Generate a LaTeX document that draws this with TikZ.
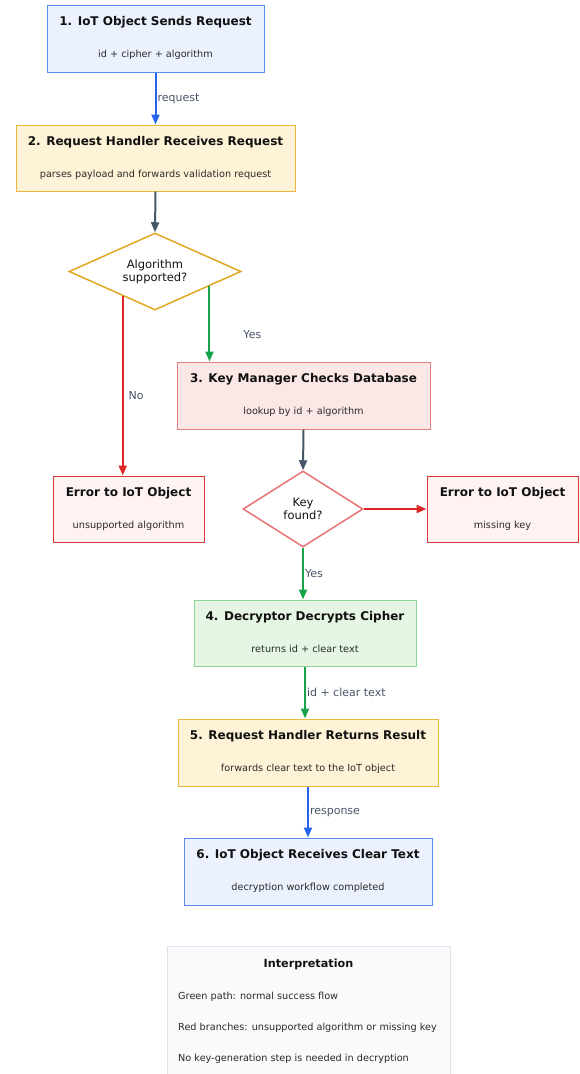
\documentclass[tikz,border=0pt]{standalone}
\usepackage{fontspec}
\setmainfont{DejaVu Sans}
\usetikzlibrary{arrows.meta,shapes.geometric,calc}

\definecolor{bluefill}{HTML}{EBF2FE}
\definecolor{blueline}{HTML}{5B8DEF}
\definecolor{bluearrow}{HTML}{2563EB}
\definecolor{yelfill}{HTML}{FEF3D6}
\definecolor{yelline}{HTML}{E8B840}
\definecolor{diaorange}{HTML}{E0A820}
\definecolor{pinkfill}{HTML}{FCE7E7}
\definecolor{pinkline}{HTML}{E88080}
\definecolor{errfill}{HTML}{FEF2F2}
\definecolor{errline}{HTML}{DC3838}
\definecolor{diared}{HTML}{E87272}
\definecolor{greenfill}{HTML}{E5F6E4}
\definecolor{greenline}{HTML}{8ED493}
\definecolor{greenarrow}{HTML}{16A34A}
\definecolor{redarrow}{HTML}{DC2626}
\definecolor{slate}{HTML}{475569}
\definecolor{notefill}{HTML}{F8FAFC}
\definecolor{noteline}{HTML}{DCE3EC}
\definecolor{ink}{HTML}{111111}
\definecolor{subink}{HTML}{2A2A2A}

\tikzset{
  box/.style={draw, line width=1pt, inner sep=0pt, rectangle},
  bluebox/.style={box, fill=bluefill, draw=blueline},
  yelbox/.style={box, fill=yelfill, draw=yelline},
  pinkbox/.style={box, fill=pinkfill, draw=pinkline},
  errbox/.style={box, fill=errfill, draw=errline},
  greenbox/.style={box, fill=greenfill, draw=greenline},
  decision/.style={diamond, draw, fill=white, line width=1.5pt, inner sep=0pt,
    align=center, text=ink, font=\fontsize{11.5}{13}\selectfont},
  title/.style={inner sep=0pt, anchor=base, text=ink, font=\fontsize{12}{14}\selectfont\bfseries},
  subtitle/.style={inner sep=0pt, anchor=base, text=subink, font=\fontsize{9.7}{12}\selectfont},
  lbl/.style={inner sep=1pt, anchor=west, text=slate, font=\fontsize{11}{13}\selectfont},
  flow/.style={line width=2pt, -{Triangle[length=10pt,width=8pt]}},
  noteline/.style={inner sep=0pt, anchor=base west, text=subink, font=\fontsize{9.7}{12}\selectfont},
}

\begin{document}
\begin{tikzpicture}[x=1pt,y=-1pt]
\useasboundingbox (0,0) rectangle (579,1074);
\clip (0,0) rectangle (579,1074);
\fill[white] (0,0) rectangle (579,1074);

% process boxes: title baseline 21pt and detail baseline 52.5pt below the top edge
\node[bluebox, minimum width=217pt, minimum height=67pt] (b1) at (155.5,38.5) {};
\node[title] (b1t) at ($(b1.north)+(0,21)$) {1. IoT Object Sends Request};
\node[subtitle] (b1s) at ($(b1.north)+(0,52.5)$) {id + cipher + algorithm};

\node[yelbox, minimum width=279pt, minimum height=66pt] (b2) at (155.5,158) {};
\node[title] (b2t) at ($(b2.north)+(0,21)$) {2. Request Handler Receives Request};
\node[subtitle] (b2s) at ($(b2.north)+(0,52.5)$) {parses payload and forwards validation request};

\node[decision, draw=diaorange, aspect=2.23, minimum width=172pt, minimum height=77pt] (d1) at (155,271.5)
  {Algorithm\\supported?};

\node[pinkbox, minimum width=253pt, minimum height=67pt] (b3) at (303.5,395.5) {};
\node[title] (b3t) at ($(b3.north)+(0,21)$) {3. Key Manager Checks Database};
\node[subtitle] (b3s) at ($(b3.north)+(0,52.5)$) {lookup by id + algorithm};

\node[errbox, minimum width=151pt, minimum height=66pt] (e1) at (128.5,509) {};
\node[title] (e1t) at ($(e1.north)+(0,21)$) {Error to IoT Object};
\node[subtitle] (e1s) at ($(e1.north)+(0,52.5)$) {unsupported algorithm};

\node[decision, draw=diared, aspect=1.58, minimum width=120pt, minimum height=76pt] (d2) at (303,509)
  {Key\\found?};

\node[errbox, minimum width=151pt, minimum height=66pt] (e2) at (502.5,509) {};
\node[title] (e2t) at ($(e2.north)+(0,21)$) {Error to IoT Object};
\node[subtitle] (e2s) at ($(e2.north)+(0,52.5)$) {missing key};

\node[greenbox, minimum width=222pt, minimum height=66pt] (b4) at (305,633) {};
\node[title] (b4t) at ($(b4.north)+(0,21)$) {4. Decryptor Decrypts Cipher};
\node[subtitle] (b4s) at ($(b4.north)+(0,52.5)$) {returns id + clear text};

\node[yelbox, minimum width=260pt, minimum height=67pt] (b5) at (308,752.5) {};
\node[title] (b5t) at ($(b5.north)+(0,21)$) {5. Request Handler Returns Result};
\node[subtitle] (b5s) at ($(b5.north)+(0,52.5)$) {forwards clear text to the IoT object};

\node[bluebox, minimum width=248pt, minimum height=67pt] (b6) at (308,871.5) {};
\node[title] (b6t) at ($(b6.north)+(0,21)$) {6. IoT Object Receives Clear Text};
\node[subtitle] (b6s) at ($(b6.north)+(0,52.5)$) {decryption workflow completed};

% legend panel (runs past the lower edge)
\node[box, fill=notefill, draw=noteline, minimum width=283pt, minimum height=170pt] (note) at (308.5,1031) {};
\node[inner sep=0pt, anchor=base, text=ink, font=\fontsize{11.2}{13}\selectfont\bfseries] (notet) at ($(note.north)+(0,21.5)$) {Interpretation};
\node[noteline] (n1) at (178,999.5) {Green path: normal success flow};
\node[noteline] (n2) at (178,1030.5) {Red branches: unsupported algorithm or missing key};
\node[noteline] (n3) at (178,1061.5) {No key-generation step is needed in decryption};

% branch points on the lower edges of the first decision
\coordinate (yes1) at ($(d1.east)!0.372!(d1.south)$);
\coordinate (no1) at ($(d1.west)!0.628!(d1.south)$);

% connectors
\draw[flow, bluearrow] (b1.south) -- node[lbl, pos=0.5] (l1) {request} (b2.north);
\draw[flow, slate] (b2.south) -- (d1.north);
\draw[flow, greenarrow] (yes1) -- node[lbl, pos=0.645, xshift=32pt] (l2) {Yes} (yes1 |- b3.north);
\draw[flow, redarrow] (no1) -- node[lbl, pos=0.553, xshift=4pt] (l3) {No} (no1 |- e1.north);
\draw[flow, slate] (b3.south) -- (d2.north);
\draw[flow, redarrow] (d2.east) -- (e2.west);
\draw[flow, greenarrow] (d2.south) -- node[lbl, pos=0.49] (l4) {Yes} (d2.south |- b4.north);
\draw[flow, greenarrow] (b4.south) -- node[lbl, pos=0.49] (l5) {id + clear text} (b4.south |- b5.north);
\draw[flow, bluearrow] (b5.south) -- node[lbl, pos=0.52] (l6) {response} (b6.north);
\end{tikzpicture}
\end{document}
